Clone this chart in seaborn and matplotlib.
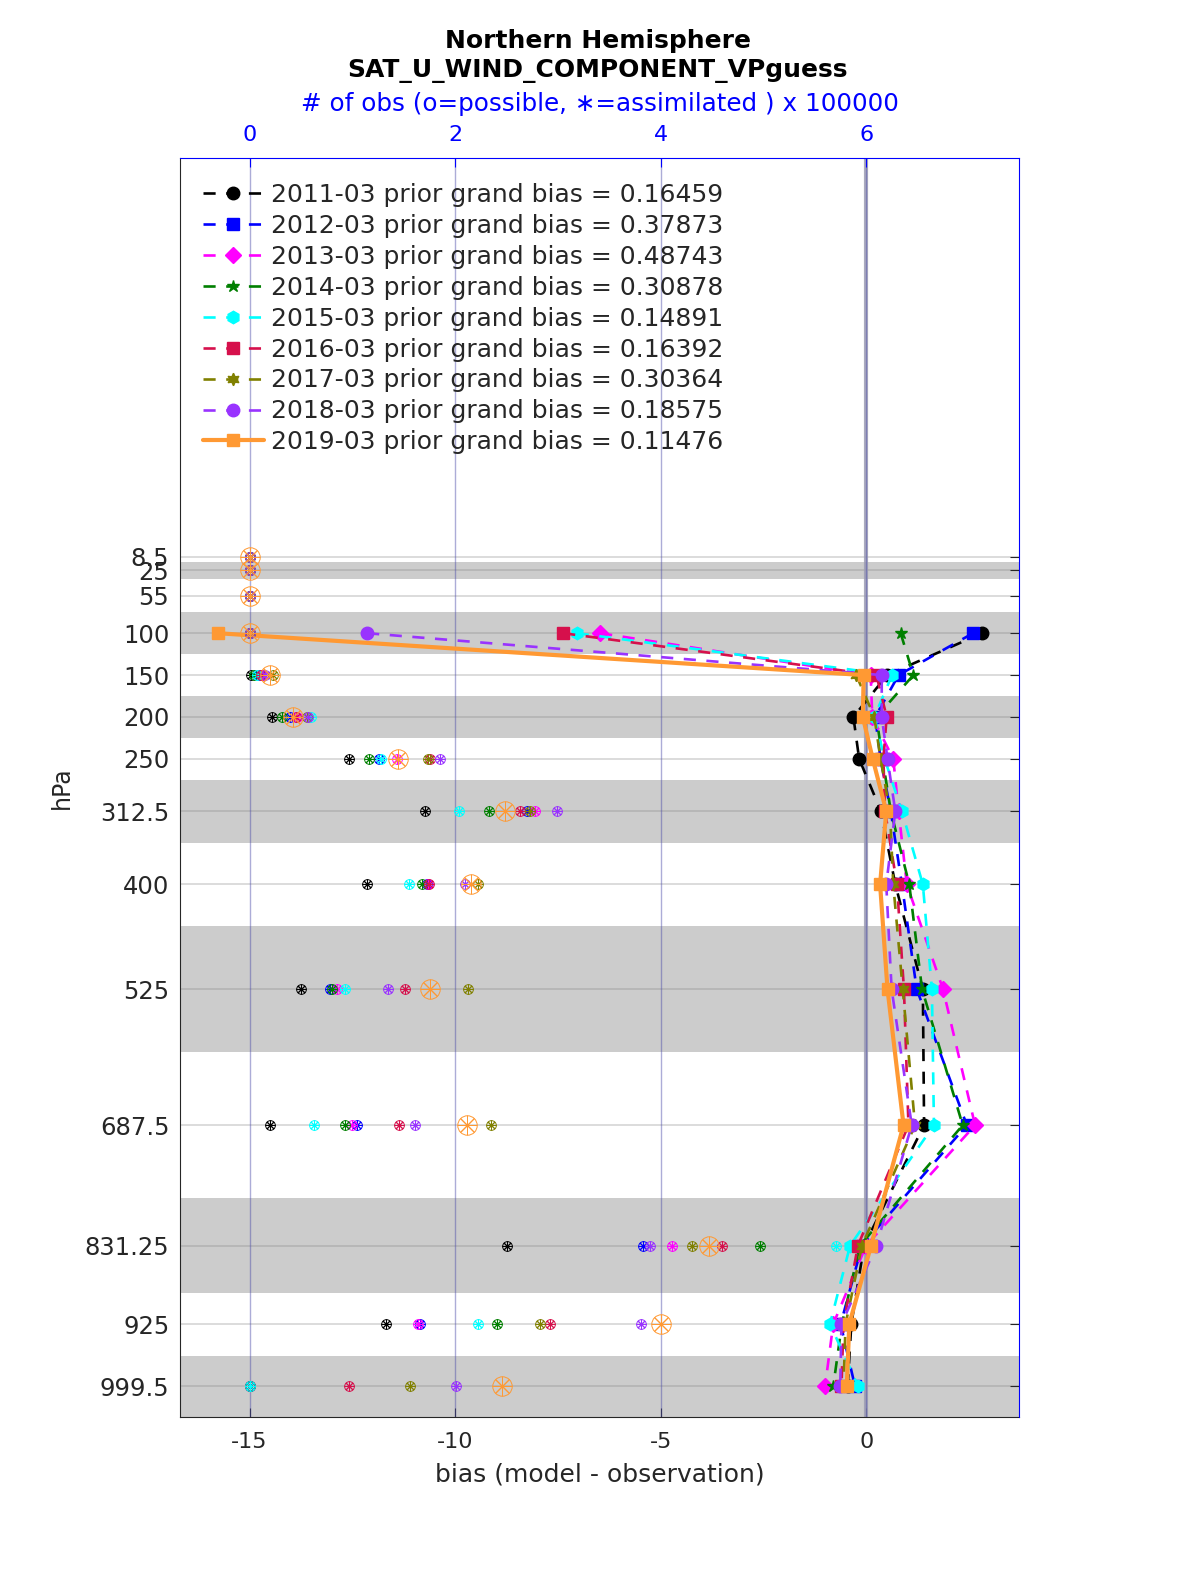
import numpy as np
import matplotlib
matplotlib.use('Agg')
import matplotlib.pyplot as plt
import seaborn as sns

sns.set_style('white')
plt.rcParams['font.family'] = ['DejaVu Sans']

# pressure levels (hPa) and the layer edges around them
levels = [8.5, 25, 55, 100, 150, 200, 250, 312.5, 400, 525, 687.5, 831.25, 925, 999.5]
level_labels = ['8.5', '25', '55', '100', '150', '200', '250', '312.5', '400',
                '525', '687.5', '831.25', '925', '999.5']
layer_edges = [2, 15, 35, 75, 125, 175, 225, 275, 350, 450, 600, 775, 887.5, 963, 1036]

years = ['2011-03', '2012-03', '2013-03', '2014-03', '2015-03', '2016-03',
         '2017-03', '2018-03', '2019-03']
grand_bias = ['0.16459', '0.37873', '0.48743', '0.30878', '0.14891', '0.16392',
              '0.30364', '0.18575', '0.11476']
colors = ['black', '#0000ff', '#ff00ff', '#007f00', '#00ffff', '#d6104c',
          '#808000', '#9933ff', '#ff9933']
markers = ['o', 's', 'D', '*', 'h', 's', (6, 1, 0), 'o', 's']

nan = np.nan
# bias (model - observation) per level
bias_2011 = [nan, nan, nan, 2.82, 0.51, -0.31, -0.17, 0.36, 0.71, 1.38, 1.41, -0.05, -0.36, -0.45]
bias_2012 = [nan, nan, nan, 2.60, 0.79, 0.22, 0.35, 0.60, 0.87, 1.23, 2.45, -0.10, -0.62, -0.27]
bias_2013 = [nan, nan, nan, -6.47, 0.11, 0.15, 0.66, 0.79, 0.99, 1.87, 2.65, 0.00, -0.80, -1.00]
bias_2014 = [nan, nan, nan, 0.84, 1.15, 0.25, 0.40, 0.60, 1.05, 1.36, 2.35, -0.15, -0.59, -0.80]
bias_2015 = [nan, nan, nan, -7.04, 0.63, 0.20, 0.45, 0.87, 1.38, 1.60, 1.65, -0.39, -0.88, -0.19]
bias_2016 = [nan, nan, nan, -7.37, 0.25, 0.50, 0.42, 0.46, 0.75, 0.92, 1.03, -0.20, -0.55, -0.60]
bias_2017 = [nan, nan, nan, nan, -0.24, 0.20, 0.35, 0.58, 0.66, 0.89, 1.19, -0.10, -0.50, -0.55]
bias_2018 = [nan, nan, nan, -12.14, 0.38, 0.38, 0.52, 0.71, 0.49, 0.62, 1.11, 0.25, -0.60, -0.63]
bias_2019 = [nan, nan, nan, -15.77, -0.06, -0.08, 0.16, 0.49, 0.34, 0.52, 0.91, 0.12, -0.41, -0.47]

# number of observations (x 100000) per level
nobs_2011 = [0, 0, 0, 0, 0.011, 0.218, 0.971, 1.708, 1.140, 0.497, 0.200, 2.505, 1.325, 0]
nobs_2012 = [0, 0, 0, 0, 0.090, 0.393, 1.257, 2.698, 1.724, 0.783, 1.047, 3.830, 1.657, 0]
nobs_2013 = [0, 0, 0, 0, 0.133, 0.464, 1.438, 2.779, 1.740, 0.854, 0.996, 4.115, 1.644, 0]
nobs_2014 = [0, 0, 0, 0, 0.043, 0.312, 1.160, 2.331, 1.676, 0.800, 0.929, 4.963, 2.404, 0]
nobs_2015 = [0, 0, 0, 0, 0.075, 0.595, 1.276, 2.039, 1.555, 0.929, 0.627, 5.710, 2.227, 0]
nobs_2016 = [0, 0, 0, 0, 0.114, 0.450, 1.757, 2.633, 1.747, 1.513, 1.459, 4.600, 2.924, 0.966]
nobs_2017 = [0, 0, 0, 0, 0.225, 0.556, 1.737, 2.730, 2.221, 2.130, 2.354, 4.309, 2.830, 1.560]
nobs_2018 = [0, 0, 0, 0, 0.150, 0.572, 1.854, 2.990, 2.097, 1.350, 1.610, 3.897, 3.813, 2.009]
nobs_2019 = [0, 0, 0, 0, 0.199, 0.426, 1.445, 2.490, 2.156, 1.757, 2.120, 4.473, 4.004, 2.455]

biases = [bias_2011, bias_2012, bias_2013, bias_2014, bias_2015, bias_2016,
          bias_2017, bias_2018, bias_2019]
nobs = [nobs_2011, nobs_2012, nobs_2013, nobs_2014, nobs_2015, nobs_2016,
        nobs_2017, nobs_2018, nobs_2019]

count_ticks = [0, 2, 4, 6]
bias_xlim = (-16.68, 3.72)
count_zero, count_scale = -15.0, 2.5   # bias = count_zero + count_scale * count

fig = plt.figure(figsize=(12, 15.75), dpi=100)
ax = fig.add_axes([0.1504, 0.1003, 0.6988, 0.7994])

# alternating gray layers and level lines
for i in range(1, len(layer_edges) - 1, 2):
    ax.axhspan(layer_edges[i], layer_edges[i + 1], color='#cccccc', lw=0, zorder=0)
for lev in levels:
    ax.axhline(lev, color='#808080', alpha=0.33, lw=1.2, zorder=0.5)
for c in count_ticks:
    ax.axvline(count_zero + count_scale * c, color='#4848a8', alpha=0.45, lw=1.0, zorder=0.6)
ax.axvline(0, color='#9c9cb4', alpha=0.85, lw=3, zorder=0.55)

handles = []
for i, (yr, vals, col, mk) in enumerate(zip(years, biases, colors, markers)):
    last = i == len(years) - 1
    sns.lineplot(x=vals, y=levels, ax=ax, sort=False, estimator=None,
                 color=col, marker=mk, markersize=9 if mk != 'D' else 8,
                 markeredgecolor=col, markeredgewidth=1,
                 linestyle='-' if last else (0, (4.6, 4)),
                 linewidth=3 if last else 1.9, zorder=3 + i)
    handles.append(ax.lines[-1])

labels = [f'{yr} prior grand bias = {gb}' for yr, gb in zip(years, grand_bias)]
ax.legend(handles, labels, loc='upper left', bbox_to_anchor=(0.0265, 0.98),
          frameon=False, fontsize=18, handlelength=2.45, handletextpad=0.3,
          labelspacing=0.275, borderpad=0, borderaxespad=0)

ax.set_xlim(bias_xlim)
ax.set_ylim(1036, -467.5)
ax.set_yticks(levels)
ax.set_yticklabels(level_labels)
ax.set_xticks([-15, -10, -5, 0])
ax.set_xticklabels(['-15', '-10', '-5', '0'])
ax.tick_params(axis='both', direction='in', length=6.5, labelsize=16,
               labelcolor='#262626', color='#262626', right=True, top=False)
ax.tick_params(axis='x', pad=11)
ax.tick_params(axis='y', pad=8, labelsize=17.5)
ax.set_xlabel('bias (model - observation)', fontsize=18, color='#262626')
ax.set_ylabel('hPa', fontsize=17, color='#262626')
ax.xaxis.set_label_coords(0.5, -0.0365)
ax.yaxis.set_label_coords(-0.127, 0.5)
for s in ['top', 'right']:
    ax.spines[s].set_visible(False)
for s in ['left', 'bottom']:
    ax.spines[s].set_color('#262626')

# observation counts on the top axis
ax2 = ax.twiny()
for i, (cnt, col) in enumerate(zip(nobs, colors)):
    ms = 14 if i == len(nobs) - 1 else 7
    ax2.plot(cnt, levels, ls='none', marker='o', mfc='none', mec=col, ms=ms, mew=0.7)
    ax2.plot(cnt, levels, ls='none', marker=(8, 2, 0), color=col, ms=ms, mew=0.7)
ax2.set_xlim([(b - count_zero) / count_scale for b in bias_xlim])
ax2.set_xticks(count_ticks)
ax2.tick_params(axis='x', direction='in', length=6.5, labelsize=16, colors='blue', pad=9)
ax2.set_xlabel('# of obs (o=possible, \u2217=assimilated ) x 100000',
               fontsize=17.7, color='blue', labelpad=10.5)
for s in ['left', 'bottom']:
    ax2.spines[s].set_visible(False)
for s in ['top', 'right']:
    ax2.spines[s].set_color('blue')

fig.text(0.4983, 1 - 41 / 1575, 'Northern Hemisphere', ha='center', va='center',
         fontsize=18, fontweight='bold', color='black')
fig.text(0.4983, 1 - 71 / 1575, 'SAT_U_WIND_COMPONENT_VPguess', ha='center',
         va='center', fontsize=18, fontweight='bold', color='black')

fig.savefig('out.png', dpi=100)
